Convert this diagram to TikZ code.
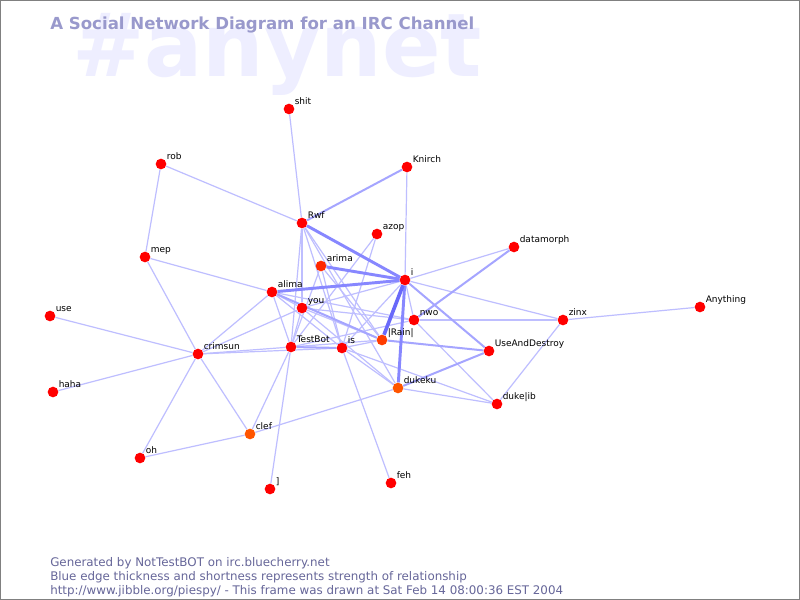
\documentclass[tikz,border=0pt]{standalone}
\usepackage{fontspec}
\setmainfont{DejaVu Sans}
\usetikzlibrary{calc}
\pgfdeclarelayer{bg}
\pgfsetlayers{bg,main}
\definecolor{nred}{RGB}{255,0,0}
\definecolor{nor1}{RGB}{255,40,0}
\definecolor{nor2}{RGB}{255,60,0}
\definecolor{nor3}{RGB}{255,85,0}
\definecolor{wm}{RGB}{238,238,255}
\definecolor{ttl}{RGB}{153,153,204}
\definecolor{ftr}{RGB}{102,102,153}
\definecolor{eA}{RGB}{190,190,255}
\definecolor{eB}{RGB}{165,165,255}
\definecolor{eC}{RGB}{135,135,255}
\definecolor{eD}{RGB}{105,105,250}
\definecolor{frm}{RGB}{128,128,128}
\newcommand\nick[5]{%
  \node[dot,fill=#5] (#1) at (#2,#3) {};
  \node[lab] (#1-l) at ($(#1)+(5.5,-5)$) {#4};}
\begin{document}
\begin{tikzpicture}[x=0.75pt,y=-0.75pt,
  dot/.style={circle,draw=none,minimum size=8pt,inner sep=0pt},
  lab/.style={anchor=base west,inner sep=0pt,font=\fontsize{6.75pt}{8pt}\selectfont,text=black},
  ea/.style={draw=eA,line width=0.9pt},
  eb/.style={draw=eB,line width=1.5pt},
  ec/.style={draw=eC,line width=2.2pt},
  ed/.style={draw=eD,line width=2.7pt},
  foot/.style={anchor=base west,inner sep=0pt,text=ftr,font=\fontsize{8.9pt}{10pt}\selectfont}]
\useasboundingbox (0,0) rectangle (800,600);
% nodes
\nick{shit}{289}{109}{shit}{nred}
\nick{rob}{161}{164}{rob}{nred}
\nick{Knirch}{407}{167}{Knirch}{nred}
\nick{Rwf}{302}{223}{Rwf}{nred}
\nick{azop}{377}{234}{azop}{nred}
\nick{datamorph}{514}{247}{datamorph}{nred}
\nick{mep}{145}{257}{mep}{nred}
\nick{arima}{321}{266}{arima}{nor1}
\nick{i}{405}{280}{i}{nred}
\nick{alima}{272}{292}{alima}{nred}
\nick{you}{302}{308}{you}{nred}
\nick{nwo}{414}{320}{nwo}{nred}
\nick{zinx}{563}{320}{zinx}{nred}
\nick{Anything}{700}{307}{Anything}{nred}
\nick{use}{50}{316}{use}{nred}
\nick{Rain}{382}{340}{|Rain|}{nor2}
\nick{TestBot}{291}{347}{TestBot}{nred}
\nick{is}{342}{348}{is}{nred}
\nick{crimsun}{198}{354}{crimsun}{nred}
\nick{UAD}{489}{351}{UseAndDestroy}{nred}
\nick{haha}{53}{392}{haha}{nred}
\nick{dukeku}{398}{388}{dukeku}{nor3}
\nick{dukelib}{497}{404}{duke|ib}{nred}
\nick{clef}{250}{434}{clef}{nor3}
\nick{oh}{140}{458}{oh}{nred}
\nick{rbr}{270}{489}{]}{nred}
\nick{feh}{391}{483}{feh}{nred}
% background, watermark and edges
\begin{pgfonlayer}{bg}
\fill[white] (0,0) rectangle (800,600);
\node[anchor=base west,inner sep=0pt,text=wm] (wmark) at (72,76)
  {\scalebox{1.08}[1.1]{\fontsize{60pt}{60pt}\selectfont\bfseries\#anynet}};
\foreach \a/\b in {shit/Rwf,rob/Rwf,rob/mep,Knirch/i,mep/crimsun,mep/alima,
  azop/TestBot,azop/is,datamorph/i,i/zinx,nwo/zinx,zinx/Anything,zinx/dukelib,
  nwo/dukelib,dukeku/dukelib,is/dukelib,is/feh,clef/dukeku,clef/TestBot,
  clef/crimsun,clef/oh,crimsun/oh,crimsun/use,crimsun/haha,rbr/TestBot,
  crimsun/TestBot,crimsun/is,crimsun/alima,crimsun/you,i/nwo,i/you,i/is,
  TestBot/Rain,is/Rain,you/nwo,you/Rain,you/TestBot,alima/nwo,alima/is,
  alima/TestBot,alima/you,Rwf/TestBot,Rwf/you,Rwf/is,Rwf/Rain,Rwf/dukeku,
  arima/TestBot,arima/is,arima/Rain,is/dukeku,you/dukeku,TestBot/nwo}
  \draw[ea] (\a) -- (\b);
\foreach \a/\b in {Knirch/Rwf,datamorph/nwo,i/UAD,dukeku/UAD,Rain/UAD,alima/Rain,TestBot/is}
  \draw[eb] (\a) -- (\b);
\foreach \a/\b in {Rwf/i,arima/i,alima/i,i/dukeku}
  \draw[ec] (\a) -- (\b);
\draw[ed] (i) -- (Rain);
\end{pgfonlayer}
\node[anchor=base west,inner sep=0pt,text=ttl] (title) at (50,29)
  {\fontsize{12.45pt}{14pt}\selectfont\bfseries A Social Network Diagram for an IRC Channel};
% footer
\node[foot] (f1) at (50,566) {Generated by NotTestBOT on irc.bluecherry.net};
\node[foot] (f2) at (50,580) {Blue edge thickness and shortness represents strength of relationship};
\node[foot] (f3) at (50,594) {http://www.jibble.org/piespy/ - This frame was drawn at Sat Feb 14 08:00:36 EST 2004};
\draw[draw=frm,line width=0.75pt] (0.5,0.5) rectangle (799.5,599.5);
\end{tikzpicture}
\end{document}
